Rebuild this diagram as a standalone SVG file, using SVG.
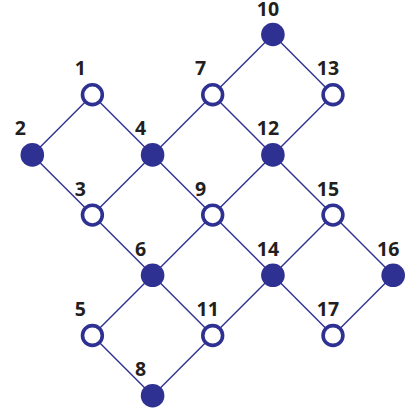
<svg xmlns="http://www.w3.org/2000/svg" width="409" height="415" viewBox="0 0 409 415">
<style>
.e{stroke:#2e3192;stroke-width:1.4;fill:none}
.f{fill:#2e3192}
.o{fill:#fff;stroke:#2e3192;stroke-width:3.6}
text{font-family:"Open Sans","Liberation Sans",sans-serif;font-weight:bold;font-size:19.5px;fill:#231f20;text-anchor:middle}
</style>
<rect width="409" height="415" fill="#fff"/>
<g id="connectors">
<line class="e" x1="272.9" y1="34.5" x2="212.7" y2="94.7"/>
<line class="e" x1="272.9" y1="34.5" x2="333" y2="94.7"/>
<line class="e" x1="92.4" y1="94.7" x2="32.3" y2="154.9"/>
<line class="e" x1="92.4" y1="94.7" x2="152.6" y2="154.9"/>
<line class="e" x1="212.7" y1="94.7" x2="152.6" y2="154.9"/>
<line class="e" x1="212.7" y1="94.7" x2="272.9" y2="154.9"/>
<line class="e" x1="333" y1="94.7" x2="272.9" y2="154.9"/>
<line class="e" x1="32.3" y1="154.9" x2="92.4" y2="215.1"/>
<line class="e" x1="152.6" y1="154.9" x2="92.4" y2="215.1"/>
<line class="e" x1="152.6" y1="154.9" x2="212.7" y2="215.1"/>
<line class="e" x1="272.9" y1="154.9" x2="212.7" y2="215.1"/>
<line class="e" x1="272.9" y1="154.9" x2="333" y2="215.1"/>
<line class="e" x1="92.4" y1="215.1" x2="152.6" y2="275.3"/>
<line class="e" x1="212.7" y1="215.1" x2="152.6" y2="275.3"/>
<line class="e" x1="212.7" y1="215.1" x2="272.9" y2="275.3"/>
<line class="e" x1="333" y1="215.1" x2="272.9" y2="275.3"/>
<line class="e" x1="333" y1="215.1" x2="393.2" y2="275.3"/>
<line class="e" x1="152.6" y1="275.3" x2="92.4" y2="335.5"/>
<line class="e" x1="152.6" y1="275.3" x2="212.7" y2="335.5"/>
<line class="e" x1="272.9" y1="275.3" x2="212.7" y2="335.5"/>
<line class="e" x1="272.9" y1="275.3" x2="333" y2="335.5"/>
<line class="e" x1="393.2" y1="275.3" x2="333" y2="335.5"/>
<line class="e" x1="92.4" y1="335.5" x2="152.6" y2="395.7"/>
<line class="e" x1="212.7" y1="335.5" x2="152.6" y2="395.7"/>
</g>
<g id="n10"><circle class="f" cx="272.9" cy="34.5" r="11.8"/><text x="268" y="15.5">10</text></g>
<g id="n1"><circle class="o" cx="92.4" cy="94.7" r="9.9"/><text x="80.4" y="75.2">1</text></g>
<g id="n7"><circle class="o" cx="212.7" cy="94.7" r="9.9"/><text x="200.7" y="75.2">7</text></g>
<g id="n13"><circle class="o" cx="333" cy="94.7" r="9.9"/><text x="328" y="75.2">13</text></g>
<g id="n2"><circle class="f" cx="32.3" cy="154.9" r="11.8"/><text x="20.3" y="135.4">2</text></g>
<g id="n4"><circle class="f" cx="152.6" cy="154.9" r="11.8"/><text x="140.6" y="135.4">4</text></g>
<g id="n12"><circle class="f" cx="272.9" cy="154.9" r="11.8"/><text x="268" y="135.4">12</text></g>
<g id="n3"><circle class="o" cx="92.4" cy="215.1" r="9.9"/><text x="80.4" y="195.6">3</text></g>
<g id="n9"><circle class="o" cx="212.7" cy="215.1" r="9.9"/><text x="200.7" y="195.6">9</text></g>
<g id="n15"><circle class="o" cx="333" cy="215.1" r="9.9"/><text x="328" y="195.6">15</text></g>
<g id="n6"><circle class="f" cx="152.6" cy="275.3" r="11.8"/><text x="140.6" y="255.8">6</text></g>
<g id="n14"><circle class="f" cx="272.9" cy="275.3" r="11.8"/><text x="268" y="255.8">14</text></g>
<g id="n16"><circle class="f" cx="393.2" cy="275.3" r="11.8"/><text x="388.2" y="255.8">16</text></g>
<g id="n5"><circle class="o" cx="92.4" cy="335.5" r="9.9"/><text x="80.4" y="316">5</text></g>
<g id="n11"><circle class="o" cx="212.7" cy="335.5" r="9.9"/><text x="207.7" y="316">11</text></g>
<g id="n17"><circle class="o" cx="333" cy="335.5" r="9.9"/><text x="328" y="316">17</text></g>
<g id="n8"><circle class="f" cx="152.6" cy="395.7" r="11.8"/><text x="140.6" y="376.2">8</text></g>
</svg>
